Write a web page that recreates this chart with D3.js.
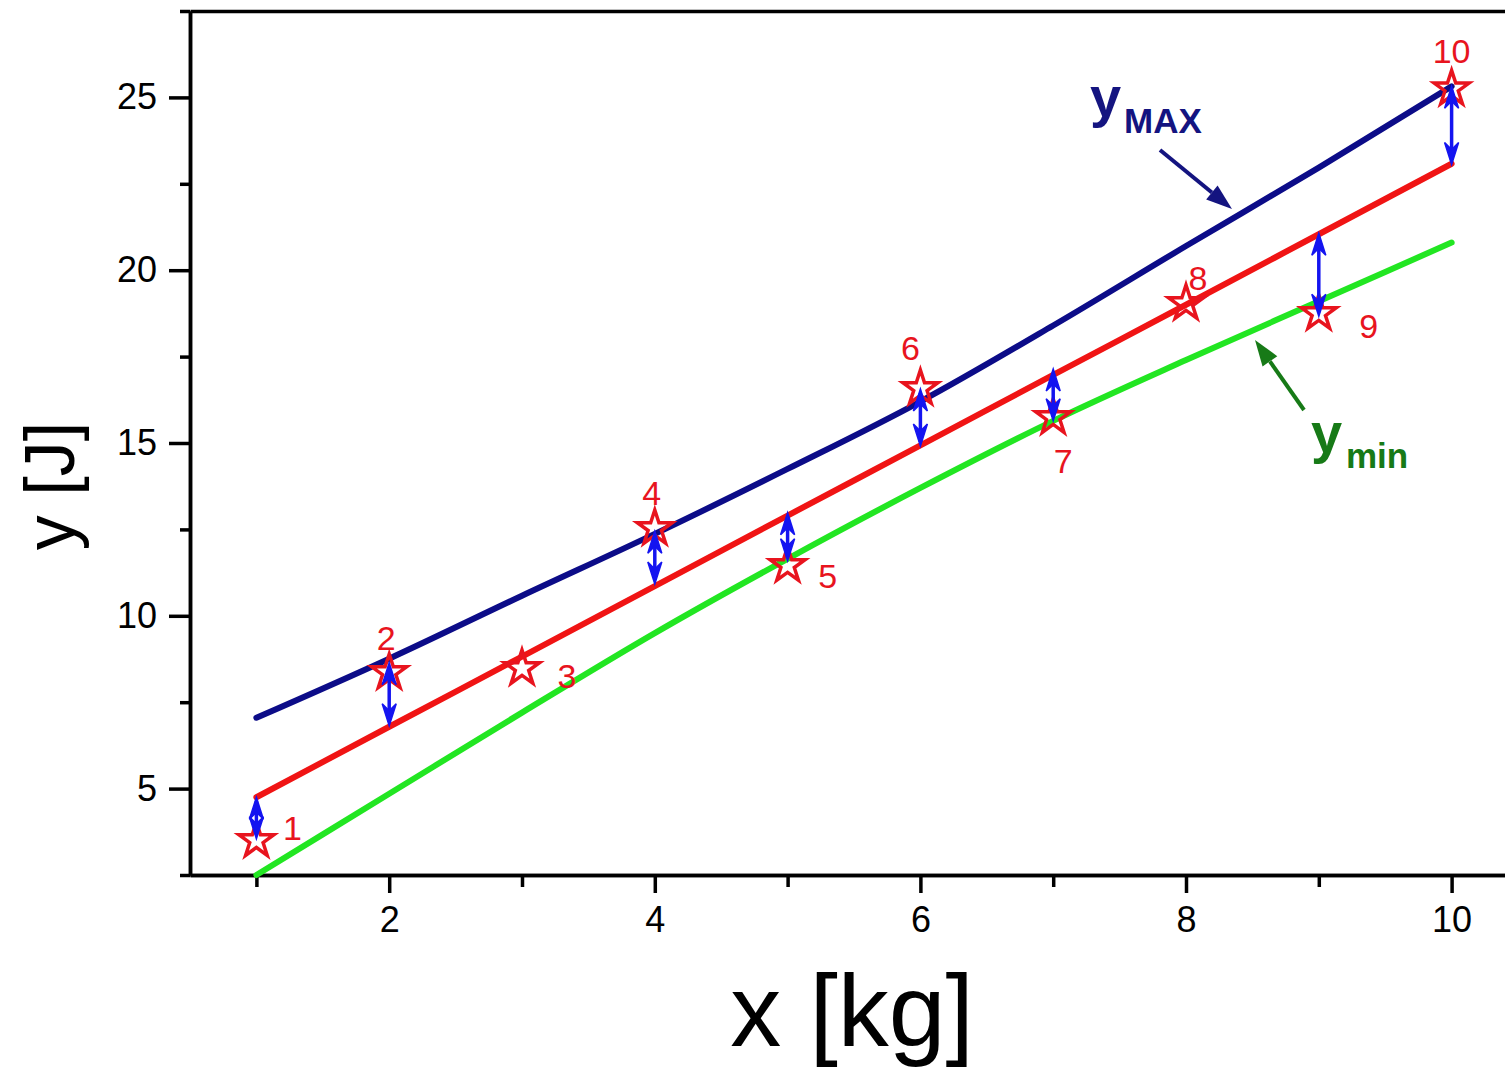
<!DOCTYPE html>
<html>
<head>
<meta charset="utf-8">
<script src="https://cdn.jsdelivr.net/npm/d3@7"></script>
<style>
  body { margin: 0; background: #fff; }
  text { font-family: Arial, "Liberation Sans", sans-serif; }
</style>
</head>
<body>
<script>
// data
var xs = [1, 2, 3, 4, 5, 6, 7, 8, 9, 10];
var yFit = [4.75, 6.79, 8.82, 10.86, 12.90, 14.93, 16.97, 19.00, 21.04, 23.08];
var yMax = [7.05, 8.76, 10.58, 12.37, 14.25, 16.2, 18.4, 20.7, 22.97, 25.32];
var yMin = [2.5, 4.85, 7.2, 9.5, 11.65, 13.7, 15.64, 17.4, 19.1, 20.8];
var yMeas = [3.50, 8.36, 8.48, 12.53, 11.46, 16.58, 15.74, 19.04, 18.75, 25.25];
var pointLabels = ["1", "2", "3", "4", "5", "6", "7", "8", "9", "10"];
// label offsets (px) from each star
var labelDx = [36, -3, 45, -3, 40, -10, 10, 12, 50, 0];
var labelDy = [-13, -35, 7, -36, 10, -41, 43, -26, 12, -38];
// residual arrows
var arrowX = [1, 2, 4, 5, 6, 7, 9, 10];
var arrowTop = [4.75, 8.64, 12.45, 12.98, 16.56, 17.14, 21.07, 25.32];
var arrowBot = [3.55, 6.82, 10.92, 11.59, 14.91, 15.64, 18.67, 23.06];
var xMajor = [2, 4, 6, 8, 10];
var xMinor = [1, 3, 5, 7, 9];
var yMajor = [5, 10, 15, 20, 25];
var yMinor = [2.5, 7.5, 12.5, 17.5, 22.5, 27.5];

const W = 1505, H = 1067;
const mLeft = 190, mTop = 11, mRight = 1518, mBottom = 875;

const svg = d3.select("body").append("svg")
  .attr("width", W)
  .attr("height", H);

const x = d3.scaleLinear().domain([0.5, 10.5]).range([mLeft, mRight]);
const y = d3.scaleLinear().domain([2.5, 27.5]).range([mBottom, mTop]);

// axes
function styleAxis(g) {
  g.selectAll("path, line").attr("stroke", "#000").attr("stroke-width", 3.5);
  g.selectAll("text").attr("fill", "#000").style("font-size", "36px")
    .style("font-family", "Arial, 'Liberation Sans', sans-serif");
}

svg.append("g")
  .attr("transform", "translate(0," + mBottom + ")")
  .call(d3.axisBottom(x).tickValues(xMajor).tickSize(18).tickPadding(13).tickSizeOuter(0))
  .call(styleAxis);
svg.append("g")
  .attr("transform", "translate(0," + mBottom + ")")
  .call(d3.axisBottom(x).tickValues(xMinor).tickSize(12).tickFormat("").tickSizeOuter(0))
  .call(styleAxis);
svg.append("g")
  .attr("transform", "translate(0," + mTop + ")")
  .call(d3.axisTop(x).tickValues([]).tickSizeOuter(0))
  .call(styleAxis);
svg.append("g")
  .attr("transform", "translate(" + mLeft + ",0)")
  .call(d3.axisLeft(y).tickValues(yMajor).tickSize(21).tickPadding(12).tickSizeOuter(0))
  .call(styleAxis);
svg.append("g")
  .attr("transform", "translate(" + mLeft + ",0)")
  .call(d3.axisLeft(y).tickValues(yMinor).tickSize(10).tickFormat("").tickSizeOuter(0))
  .call(styleAxis);

// axis titles
svg.append("text")
  .attr("x", 852)
  .attr("y", 1046)
  .attr("text-anchor", "middle")
  .style("font-size", "102px")
  .text("x [kg]");

svg.append("text")
  .attr("transform", "translate(74,486) rotate(-90)")
  .attr("text-anchor", "middle")
  .style("font-size", "70px")
  .text("y [J]");

// curves
const line = d3.line()
  .x(function(d) { return x(d[0]); })
  .y(function(d) { return y(d[1]); })
  .curve(d3.curveMonotoneX);

var series = [
  { vals: yMin, color: "#22e622" },
  { vals: yFit, color: "#f01414" },
  { vals: yMax, color: "#0c0c88" }
];
svg.selectAll(".curve")
  .data(series)
  .enter()
  .append("path")
  .attr("class", "curve")
  .attr("fill", "none")
  .attr("stroke", function(d) { return d.color; })
  .attr("stroke-width", 6)
  .attr("stroke-linecap", "round")
  .attr("d", function(d) {
    return line(xs.map(function(v, i) { return [v, d.vals[i]]; }));
  });

// stars
const star = d3.symbol().type(d3.symbolStar).size(380);
svg.selectAll(".star")
  .data(xs)
  .enter()
  .append("path")
  .attr("class", "star")
  .attr("d", star)
  .attr("transform", function(d, i) { return "translate(" + x(d) + "," + y(yMeas[i]) + ")"; })
  .attr("fill", "none")
  .attr("stroke", "#e8141e")
  .attr("stroke-width", 3.5);

svg.selectAll(".plabel")
  .data(xs)
  .enter()
  .append("text")
  .attr("class", "plabel")
  .attr("x", function(d, i) { return x(d) + labelDx[i]; })
  .attr("y", function(d, i) { return y(yMeas[i]) + labelDy[i]; })
  .attr("dy", "0.36em")
  .attr("text-anchor", "middle")
  .attr("fill", "#e8141e")
  .style("font-size", "34px")
  .text(function(d, i) { return pointLabels[i]; });

// residual double arrows
function head(px, py, dir) {
  // dir = -1 pointing up, 1 pointing down
  var L = 22, w = 7;
  return "M" + px + "," + py +
    "L" + (px - w) + "," + (py - dir * L) +
    "L" + px + "," + (py - dir * (L - 7)) +
    "L" + (px + w) + "," + (py - dir * L) + "Z";
}
var ag = svg.append("g").attr("fill", "#1414f0").attr("stroke", "#1414f0");
arrowX.forEach(function(v, i) {
  var px = x(v), y1 = y(arrowTop[i]), y2 = y(arrowBot[i]);
  ag.append("line")
    .attr("x1", px).attr("x2", px)
    .attr("y1", y1 + 4).attr("y2", y2 - 4)
    .attr("stroke-width", 3.5);
  ag.append("path").attr("d", head(px, y1, -1)).attr("stroke-width", 1.5);
  ag.append("path").attr("d", head(px, y2, 1)).attr("stroke-width", 1.5);
});

// annotations
function annoArrow(x1, y1, x2, y2, color) {
  var a = Math.atan2(y2 - y1, x2 - x1), L = 26, w = 9;
  var bx = x2 - L * Math.cos(a), by = y2 - L * Math.sin(a);
  svg.append("line")
    .attr("x1", x1).attr("y1", y1)
    .attr("x2", bx).attr("y2", by)
    .attr("stroke", color).attr("stroke-width", 4);
  svg.append("path")
    .attr("d", "M" + x2 + "," + y2 +
      "L" + (bx - w * Math.sin(a)) + "," + (by + w * Math.cos(a)) +
      "L" + (bx + w * Math.sin(a)) + "," + (by - w * Math.cos(a)) + "Z")
    .attr("fill", color);
}

var tMax = svg.append("text").attr("x", 1090).attr("y", 116)
  .attr("fill", "#141480").style("font-weight", "bold");
tMax.append("tspan").style("font-size", "56px").text("y");
tMax.append("tspan").attr("x", 1124).attr("y", 133).style("font-size", "35px").text("MAX");
annoArrow(1160, 150, 1232, 209, "#141480");

var tMin = svg.append("text").attr("x", 1311).attr("y", 452)
  .attr("fill", "#177a17").style("font-weight", "bold");
tMin.append("tspan").style("font-size", "56px").text("y");
tMin.append("tspan").attr("x", 1346).attr("y", 468).style("font-size", "35px").text("min");
annoArrow(1304, 410, 1255, 340, "#177a17");
</script>
</body>
</html>
